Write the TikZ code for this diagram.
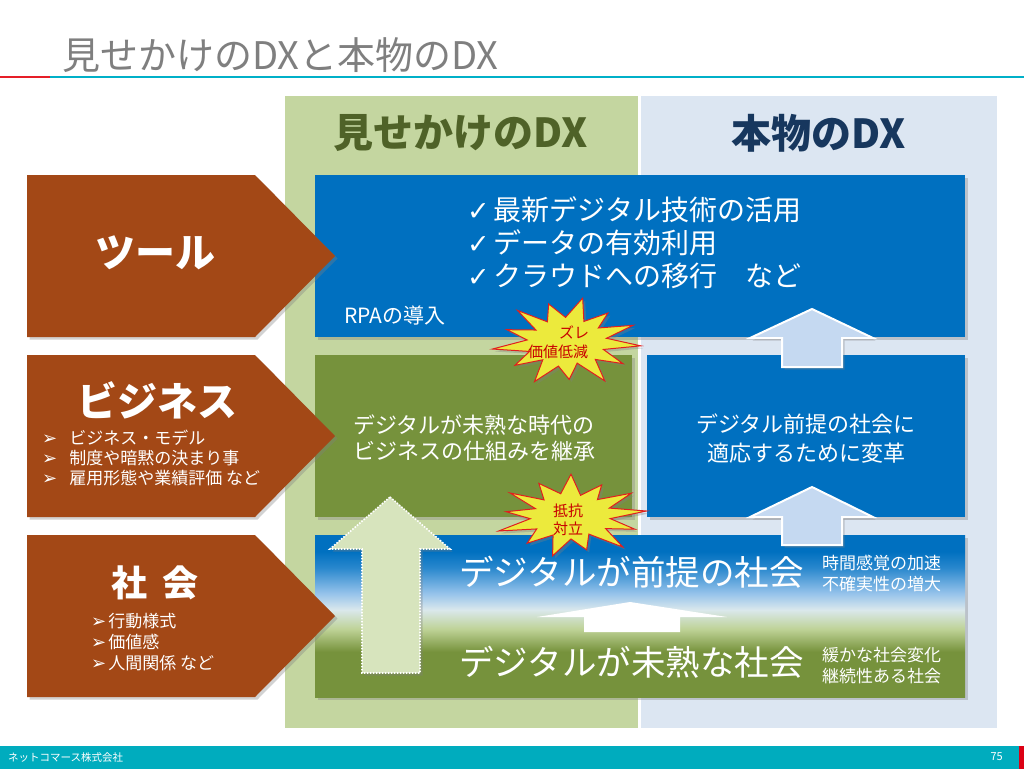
\documentclass[tikz,border=0pt]{standalone}
\usepackage{fontspec}
\setmainfont{Noto Sans CJK JP}
\newfontfamily\symf{DejaVu Sans}
\usetikzlibrary{shadows}
\definecolor{titlegray}{RGB}{127,127,127}
\definecolor{linered}{RGB}{230,30,40}
\definecolor{lineteal}{RGB}{0,176,200}
\definecolor{colgreen}{RGB}{196,214,160}
\definecolor{colblue}{RGB}{220,230,242}
\definecolor{hdrgreen}{RGB}{79,98,40}
\definecolor{hdrblue}{RGB}{23,55,94}
\definecolor{boxblue}{RGB}{0,112,192}
\definecolor{boxgreen}{RGB}{118,146,60}
\definecolor{brownarr}{RGB}{163,72,22}
\definecolor{arrblue}{RGB}{197,217,241}
\definecolor{arrgreen}{RGB}{215,228,189}
\definecolor{staryel}{RGB}{236,234,60}
\definecolor{starline}{RGB}{225,30,30}
\definecolor{startext}{RGB}{200,0,0}
\definecolor{footteal}{RGB}{0,172,190}
\definecolor{footred}{RGB}{220,0,20}
\definecolor{gmid}{RGB}{190,210,150}
\definecolor{gpale}{RGB}{218,232,236}
\definecolor{bsky}{RGB}{150,195,235}
\definecolor{bmid}{RGB}{40,135,205}
\pgfdeclareverticalshading{socgrad}{100bp}{color(0bp)=(boxgreen); color(39bp)=(boxgreen); color(46bp)=(gmid); color(52bp)=(gpale); color(57bp)=(bsky); color(65bp)=(bmid); color(70bp)=(boxblue); color(100bp)=(boxblue)}
\newcommand\arrbul{{\symf\fontsize{18}{18}\selectfont ➢}}
\newcommand\chk{{\symf\fontsize{27}{27}\selectfont ✓}}
\begin{document}
\begin{tikzpicture}[x=1pt,y=-1pt,
  shadowed/.style={drop shadow={shadow xshift=2.5pt,shadow yshift=-2.5pt,opacity=0.35}},
  panel/.style={shadowed, draw=none, inner sep=0pt, anchor=north west, minimum height=162pt},
  brownarrow/.style={fill=brownarr, shadowed},
  bluearrow/.style={fill=arrblue, draw=white, line width=2pt, shadowed},
  greenarrow/.style={fill=arrgreen, draw=white, line width=1.6pt, dash pattern=on 1.6pt off 1.4pt, shadowed},
  wtext/.style={text=white, inner sep=0pt},
  stxt/.style={text=startext, inner sep=0pt, font=\fontsize{15}{18}\selectfont},
  starshape/.style={fill=staryel, draw=starline, line width=1pt, line join=miter, shadowed},
  star/.pic={\draw[starshape] (5:1) -- (19:.52) -- (33:.9) -- (46:.55) -- (60:1.02) -- (74:.5) -- (88:.85) -- (102:.56) -- (116:1) -- (129:.52) -- (143:.88) -- (157:.55) -- (171:1.02) -- (185:.54) -- (199:.86) -- (213:.5) -- (227:.98) -- (240:.53) -- (254:.9) -- (268:.56) -- (282:1.02) -- (296:.52) -- (310:.86) -- (323:.53) -- (337:.97) -- (351:.54) -- cycle;}
]
\useasboundingbox (0,0) rectangle (1024,769);
\fill[white] (0,0) rectangle (1024,769);

% title
\node[anchor=west, text=titlegray, font=\fontsize{38}{40}\selectfont, inner sep=0pt] (title) at (62,55) {見せかけのDXと本物のDX};
\draw[linered, line width=2pt] (0,77) -- (50,77);
\draw[lineteal, line width=2pt] (50,77) -- (1024,77);

% columns
\fill[colgreen] (285,96) rectangle (638,728);
\fill[colblue] (641,96) rectangle (997,728);
\node[font=\fontsize{40}{42}\selectfont\bfseries, text=hdrgreen] (hdrL) at (461,133) {見せかけのDX};
\node[font=\fontsize{40}{42}\selectfont\bfseries, text=hdrblue] (hdrR) at (819,133) {本物のDX};

% panels
\node[panel, fill=boxblue, minimum width=650pt] (tools) at (315,175) {};
\node[panel, fill=boxgreen, minimum width=317pt] (biz) at (315,355) {};
\node[panel, fill=boxblue, minimum width=318pt] (bizR) at (647,355) {};
\node[panel, shade, shading=socgrad, minimum width=650pt] (soc) at (315,535) {};

% brown arrows
\fill[brownarrow] (27,175) -- (255,175) -- (335,256) -- (255,337) -- (27,337) -- cycle;
\fill[brownarrow] (27,355) -- (255,355) -- (335,436) -- (255,517) -- (27,517) -- cycle;
\fill[brownarrow] (27,535) -- (255,535) -- (335,616) -- (255,697) -- (27,697) -- cycle;

% up arrows
\draw[greenarrow] (390,497) -- (450,549) -- (420,549) -- (420,673) -- (362,673) -- (362,549) -- (330,549) -- cycle;
\draw[bluearrow] (812,309) -- (873,338) -- (842,338) -- (842,367) -- (782,367) -- (782,338) -- (750,338) -- cycle;
\draw[bluearrow] (812,487) -- (873,517) -- (842,517) -- (842,545) -- (782,545) -- (782,517) -- (750,517) -- cycle;
\fill[white] (537,617) -- (630,602) -- (727,617) -- (680,617) -- (680,632) -- (584,632) -- (584,617) -- cycle;

% texts in tools
\node[wtext, anchor=west, font=\fontsize{28}{32}\selectfont] (t1) at (467,210) {\chk\hspace{4pt}最新デジタル技術の活用};
\node[wtext, anchor=west, font=\fontsize{28}{32}\selectfont] (t2) at (467,243) {\chk\hspace{4pt}データの有効利用};
\node[wtext, anchor=west, font=\fontsize{28}{32}\selectfont] (t3) at (467,276) {\chk\hspace{4pt}クラウドへの移行　など};
\node[wtext, anchor=west, font=\fontsize{21}{24}\selectfont] (rpa) at (344,315) {RPAの導入};

\node[wtext, align=center, font=\fontsize{22}{26}\selectfont] (bizt) at (474,438) {デジタルが未熟な時代の\\ビジネスの仕組みを継承};
\node[wtext, align=center, font=\fontsize{22}{29}\selectfont] (bizRt) at (806,439) {デジタル前提の社会に\\適応するために変革};

\node[wtext, anchor=west, font=\fontsize{34.5}{36}\selectfont] (socA) at (459,572) {デジタルが前提の社会};
\node[wtext, anchor=west, font=\fontsize{34.5}{36}\selectfont] (socB) at (459,662) {デジタルが未熟な社会};
\node[wtext, anchor=west, align=left, font=\fontsize{17}{21}\selectfont] (socAn) at (822,573.5) {時間感覚の加速\\不確実性の増大};
\node[wtext, anchor=west, align=left, font=\fontsize{17}{21}\selectfont] (socBn) at (822,665.5) {緩かな社会変化\\継続性ある社会};

% left labels
\node[wtext, font=\fontsize{40}{44}\selectfont\bfseries] (toolL) at (155,253) {ツール};
\node[wtext, font=\fontsize{40}{44}\selectfont\bfseries] (bizL) at (157,400) {ビジネス};
\node[wtext, anchor=west, font=\fontsize{17}{20}\selectfont] (b1) at (42,438) {\arrbul\hspace{12pt}ビジネス・モデル};
\node[wtext, anchor=west, font=\fontsize{17}{20}\selectfont] (b2) at (42,458) {\arrbul\hspace{12pt}制度や暗黙の決まり事};
\node[wtext, anchor=west, font=\fontsize{17}{20}\selectfont] (b3) at (42,478) {\arrbul\hspace{12pt}雇用形態や業績評価 など};
\node[wtext, font=\fontsize{36}{40}\selectfont\bfseries] (socL) at (155,583) {社\hspace{16pt}会};
\node[wtext, anchor=west, font=\fontsize{17}{20}\selectfont] (s1) at (91,621) {\arrbul\hspace{2pt}行動様式};
\node[wtext, anchor=west, font=\fontsize{17}{20}\selectfont] (s2) at (91,642) {\arrbul\hspace{2pt}価値感};
\node[wtext, anchor=west, font=\fontsize{17}{20}\selectfont] (s3) at (91,663) {\arrbul\hspace{2pt}人間関係 など};

% stars
\pic[shift={(567,342)}, xscale=74, yscale=44] {star};
\node[stxt] (st1a) at (574,332) {ズレ};
\node[stxt] (st1b) at (558,352) {価値低減};
\pic[shift={(571,516)}, xscale=76, yscale=41, rotate=12] {star};
\node[stxt] (st2a) at (568,511) {抵抗};
\node[stxt] (st2b) at (568,529) {対立};

% footer
\fill[footteal] (0,746) rectangle (1024,769);
\fill[footred] (1019,746) rectangle (1024,769);
\node[anchor=west, text=white, inner sep=0pt, font=\fontsize{10.5}{12}\selectfont] (co) at (8,758) {ネットコマース株式会社};
\node[anchor=east, text=white, inner sep=0pt, font=\fontsize{11}{12}\selectfont] (pg) at (1003,757) {75};
\end{tikzpicture}
\end{document}
